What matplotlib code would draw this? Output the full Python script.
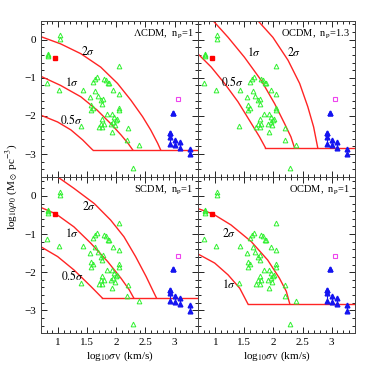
import matplotlib
matplotlib.use("Agg")
import matplotlib.pyplot as plt
from matplotlib.ticker import MultipleLocator, FixedLocator

plt.rcParams['font.family'] = ['Liberation Serif', 'DejaVu Serif']
plt.rcParams['mathtext.fontset'] = 'stix'

# galaxy data (green open triangles), same in every panel
gx = [1.03, 1.03, 0.83, 0.83, 0.82, 0.80, 1.02, 1.43, 1.40, 2.05,
      1.66, 1.63, 1.59, 1.79, 1.82, 1.88, 1.95, 2.05, 1.55, 1.69,
      1.73, 1.77, 1.76, 1.56, 1.59, 1.57, 1.83, 1.92, 2.05, 2.05,
      1.96, 2.01, 1.99, 1.76, 1.73, 1.79, 1.76, 1.90, 1.95, 1.93,
      2.20, 2.19, 2.39, 2.29, 1.85, 1.64, 1.70, 1.97]
gy = [0.11, 0.02, -0.37, -0.44, -0.40, -1.14, -1.31, -1.31, -2.27, -0.70,
      -0.98, -1.02, -1.11, -1.02, -1.05, -1.15, -1.33, -1.42, -1.50, -1.48,
      -1.59, -1.55, -1.68, -1.72, -1.78, -1.85, -1.94, -1.95, -1.78, -1.85,
      -2.02, -2.07, -2.11, -2.09, -2.20, -2.20, -2.30, -2.20, -2.15, -2.42,
      -2.33, -2.62, -2.76, -3.37, -1.15, -1.34, -2.30, -2.25]

# clusters (blue filled triangles joined by their range)
bx = [2.98, 2.92, 2.92, 3.00, 3.10, 3.27]
blo = [-1.92, -2.75, -2.55, -2.77, -2.83, -3.01]
bhi = [-1.92, -2.46, -2.46, -2.63, -2.68, -2.87]

# red filled square and magenta open square
rsq = (0.94, -0.47)
msq = (3.06, -1.57)

titles = [r'$\Lambda$CDM,  n$_{\rm p}$=1', r'OCDM,  n$_{\rm p}$=1.3',
          r'SCDM,  n$_{\rm p}$=1', r'OCDM,  n$_{\rm p}$=1']

# constraint curves: (label, x, y, label position)
curves = [
    [('2\\sigma', [0.70, 1.04, 1.39, 1.73, 2.02, 2.25, 2.45, 2.59, 2.71, 2.76],
      [0.08, -0.11, -0.37, -0.72, -1.15, -1.59, -2.02, -2.37, -2.72, -2.89], (1.52, -0.30)),
     ('1\\sigma', [0.70, 1.04, 1.39, 1.67, 1.90, 2.08, 2.20, 2.28],
      [-0.96, -1.20, -1.50, -1.85, -2.20, -2.50, -2.72, -2.89], (1.24, -1.12)),
     ('0.5\\sigma', [0.70, 0.99, 1.22, 1.42, 1.59],
      [-1.98, -2.16, -2.37, -2.63, -2.89], (1.22, -2.10))],
    [('0.5\\sigma', [0.70, 0.93, 1.16, 1.39, 1.62, 1.76, 1.86],
      [-0.37, -0.72, -1.15, -1.63, -2.20, -2.55, -2.83], (1.30, -1.11)),
     ('1\\sigma', [0.96, 1.22, 1.50, 1.79, 2.02, 2.19, 2.30, 2.36],
      [0.50, 0.06, -0.46, -1.07, -1.68, -2.20, -2.55, -2.83], (1.67, -0.33)),
     ('2\\sigma', [1.73, 1.99, 2.25, 2.45, 2.59, 2.69, 2.76],
      [0.50, 0.06, -0.54, -1.15, -1.76, -2.29, -2.83], (2.36, -0.33))],
    [('2\\sigma', [0.99, 1.27, 1.62, 1.90, 2.13, 2.33, 2.51, 2.62, 2.69],
      [0.50, 0.20, -0.20, -0.63, -1.07, -1.59, -2.11, -2.46, -2.68], (1.53, -0.27)),
     ('1\\sigma', [0.70, 0.96, 1.27, 1.56, 1.85, 2.08, 2.22, 2.30],
      [-0.30, -0.47, -0.81, -1.24, -1.72, -2.16, -2.46, -2.68], (1.24, -0.98)),
     ('0.5\\sigma', [0.70, 0.99, 1.27, 1.56, 1.76],
      [-1.33, -1.59, -1.94, -2.37, -2.68], (1.24, -2.11))],
    [('2\\sigma', [0.70, 0.96, 1.27, 1.62, 1.90, 2.10, 2.22, 2.28],
      [-0.33, -0.47, -0.76, -1.20, -1.68, -2.15, -2.50, -2.83], (1.24, -0.98)),
     ('1\\sigma', [0.70, 0.99, 1.22, 1.42, 1.56],
      [-1.52, -1.76, -2.07, -2.42, -2.83], (1.24, -2.33))],
]
floors = [-2.89, -2.83, -2.68, -2.83]

fig = plt.figure(figsize=(3.74, 3.74), dpi=100)
pos = [[0.109, 0.527, 0.42, 0.418], [0.529, 0.527, 0.42, 0.418],
       [0.109, 0.109, 0.42, 0.418], [0.529, 0.109, 0.42, 0.418]]
red = '#ff2424'
blue = '#1414f0'

for i in range(4):
    ax = fig.add_axes(pos[i])
    ax.set_xlim(0.7, 3.4)
    ax.set_ylim(-3.6, 0.5)

    # curves and the floor
    xmin_floor = min(c[1][-1] for c in curves[i])
    ax.plot([xmin_floor, 3.4], [floors[i], floors[i]], color=red, lw=1.0)
    for lab, cx, cy, lp in curves[i]:
        ax.plot(cx, cy, color=red, lw=1.0)
        ax.text(lp[0], lp[1], '$' + lab + '$', fontsize=8.5, ha='center', va='center')

    ax.plot(gx, gy, '^', mfc='none', mec='#30f030', ms=3.4, mew=0.7)
    for x, lo, hi in zip(bx, blo, bhi):
        if hi != lo:
            ax.plot([x, x], [lo, hi], color=blue, lw=0.8)
        ax.plot([x, x], [lo, hi], '^', color=blue, ms=3.4)
    ax.plot(*rsq, 's', color='#ff0000', ms=3)
    ax.plot(*msq, 's', mfc='none', mec='#ee44ee', ms=3.4, mew=0.8)

    ax.text(0.97, 0.955, titles[i], transform=ax.transAxes, ha='right', va='top', fontsize=7.5)

    ax.xaxis.set_major_locator(FixedLocator([1, 1.5, 2, 2.5, 3]))
    ax.xaxis.set_minor_locator(MultipleLocator(0.1))
    ax.yaxis.set_major_locator(MultipleLocator(1))
    ax.yaxis.set_minor_locator(MultipleLocator(0.2))
    ax.tick_params(which='both', direction='in', top=True, right=True, labelsize=8, width=0.6)
    ax.tick_params(which='major', length=4)
    ax.tick_params(which='minor', length=2)
    for s in ax.spines.values():
        s.set_linewidth(0.7)
        s.set_color('#444444')
    ax.set_xticklabels(['1', '1.5', '2', '2.5', '3'])
    if i < 2:
        ax.tick_params(labelbottom=False)
    else:
        ax.set_xlabel(r'log$_{10}\sigma_{\rm V}$ (km/s)', fontsize=8, labelpad=2)
    if i % 2 == 1:
        ax.tick_params(labelleft=False)

fig.text(0.03, 0.5, r'log$_{10}\rho_0$ (M$_\odot$ pc$^{-3}$)', rotation=90,
         ha='center', va='center', fontsize=8)

fig.savefig('out.png', dpi=100)
